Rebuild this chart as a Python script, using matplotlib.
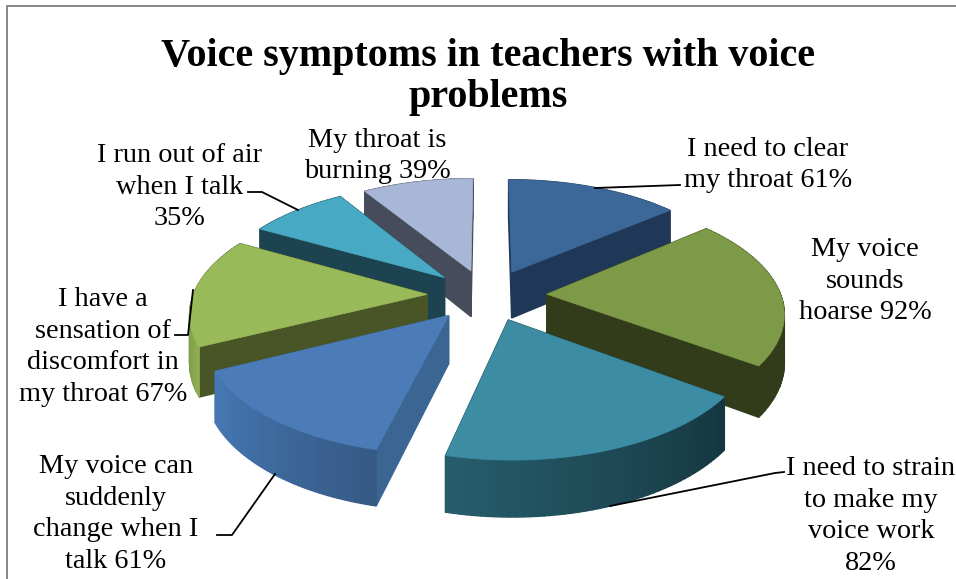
#!/usr/bin/env python3
"""Exploded 3D pie of voice symptoms, drawn with a small perspective projection."""

import numpy as np
import matplotlib
matplotlib.use("Agg")
import matplotlib.pyplot as plt
from matplotlib.patches import Polygon

TITLE = "Voice symptoms in teachers with voice\nproblems"
values = [61, 92, 82, 61, 67, 35, 39]
labels = [
    "I need to clear\nmy throat 61%",
    "My voice\nsounds\nhoarse 92%",
    "I need to strain\nto make my\nvoice work\n82%",
    "My voice can\nsuddenly\nchange when I\ntalk 61%",
    "I have a\nsensation of\ndiscomfort in\nmy throat 67%",
    "I run out of air\nwhen I talk\n35%",
    "My throat is\nburning 39%",
]
label_xy = [(768, 165), (865, 281), (871, 516), (116, 514), (103, 347), (180, 187), (377, 156)]
leaders = [
    [(595, 188), (680, 185)],
    None,
    [(610, 506), (775, 473), (784, 472)],
    [(275, 474), (232, 535), (217, 535)],
    [(193, 290), (188, 335), (175, 335)],
    [(298, 210), (262, 192), (248, 192)],
    None,
]
top_colors = ["#3C6899", "#7C9A48", "#3C8CA3", "#4B7CB8", "#99BA59", "#48A9C4", "#A9B7D6"]
cut_colors = ["#203857", "#333C1A", "#1B3E4A", "#3B6694", "#495427", "#1C434F", "#474C5C"]
# rim colour at the start and at the end of each slice's arc
rim_colors = [
    ("#203857", "#203857"),
    ("#333C1A", "#333C1A"),
    ("#15363F", "#265D6C"),
    ("#365A86", "#4679B4"),
    ("#8FAE52", "#495427"),
    ("#1C434F", "#1C434F"),
    ("#474C5C", "#474C5C"),
]

CX, CY = 487, 295
SCALE_X, SCALE_Y, PERSP = 260, 112, 0.144
EXPLODE = 0.23
RIM_X = 0.90
DEPTH = 47


def project(x, y, z=0.0):
    w = 1 + PERSP * y
    return CX + SCALE_X * x / w, CY + (-SCALE_Y * y + DEPTH * z) / w


def lerp_color(c0, c1, t):
    a = np.array(matplotlib.colors.to_rgb(c0))
    b = np.array(matplotlib.colors.to_rgb(c1))
    return a + (b - a) * t


def draw_slice(ax, start, end, top, cut, rim):
    mid = (start + end) / 2
    ox, oy = EXPLODE * np.sin(mid), EXPLODE * np.cos(mid)
    th = np.linspace(start, end, 48)
    xs = ox + RIM_X * np.sin(th)
    ys = oy + np.cos(th)

    quads = []
    for x, y in ((xs[0], ys[0]), (xs[-1], ys[-1])):
        corners = [project(ox, oy), project(x, y), project(x, y, 1), project(ox, oy, 1)]
        quads.append(((oy + y) / 2, corners, cut))
    for i in range(len(th) - 1):
        corners = [
            project(xs[i], ys[i]),
            project(xs[i + 1], ys[i + 1]),
            project(xs[i + 1], ys[i + 1], 1),
            project(xs[i], ys[i], 1),
        ]
        quads.append(((ys[i] + ys[i + 1]) / 2, corners, lerp_color(*rim, i / (len(th) - 2))))

    for _, corners, color in sorted(quads, key=lambda q: -q[0]):
        ax.add_patch(Polygon(corners, closed=True, facecolor=color, edgecolor=color, linewidth=1.0))

    outline = [project(ox, oy)] + [project(x, y) for x, y in zip(xs, ys)]
    ax.add_patch(Polygon(outline, closed=True, facecolor=top, edgecolor=top, linewidth=0.5))


def main():
    fig = plt.figure(figsize=(9.56, 5.79), dpi=100)
    ax = fig.add_axes([0, 0, 1, 1])
    ax.set_xlim(0, 956)
    ax.set_ylim(579, 0)
    ax.axis("off")

    # chart frame, cropped at the right and bottom of the picture
    ax.plot([7, 7, 956], [579, 6, 6], color="#868686", linewidth=1.4)

    edges = np.radians(np.concatenate([[0], np.cumsum(values)]) / sum(values) * 360)
    mids = (edges[:-1] + edges[1:]) / 2
    # paint the slices from the back of the pie to the front
    for i in np.argsort(-np.cos(mids)):
        draw_slice(ax, edges[i], edges[i + 1], top_colors[i], cut_colors[i], rim_colors[i])

    for pts in leaders:
        if pts:
            ax.plot(*zip(*pts), color="black", linewidth=1.3)

    for text, (x, y) in zip(labels, label_xy):
        ax.text(x, y, text, ha="center", va="center", family="Liberation Serif",
                fontsize=20.3, linespacing=1.35, color="black")
    ax.text(488, 77, TITLE, ha="center", va="center", family="Liberation Serif",
            fontsize=28.9, fontweight="bold", linespacing=1.12, color="black")

    fig.savefig("out.png", dpi=100)


if __name__ == "__main__":
    main()
